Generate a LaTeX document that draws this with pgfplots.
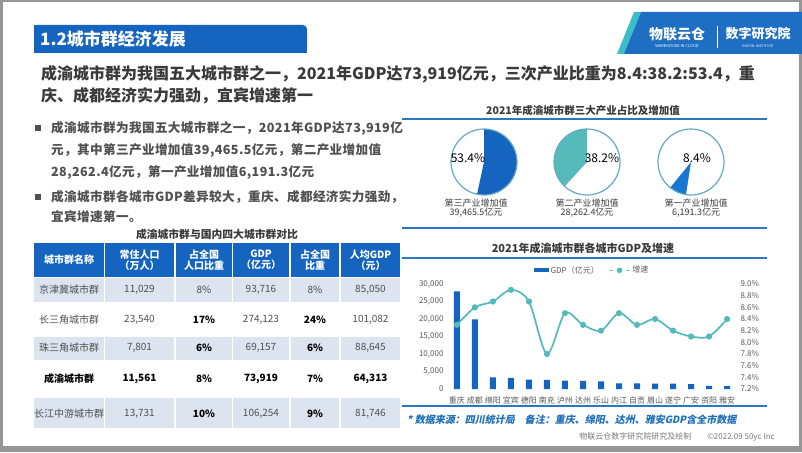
\documentclass[border=0pt]{standalone}
\usepackage{fontspec}
\setmainfont{Noto Sans CJK SC}
\newfontfamily\notefont{Noto Sans CJK SC}[FakeSlant=0.2]
\newfontfamily\bulfont{Noto Sans CJK SC}[LetterSpace=3]
\usepackage{pgfplots}
\pgfplotsset{compat=1.18}
\definecolor{mainblue}{RGB}{21,101,192}
\definecolor{lineblue}{RGB}{40,120,195}
\definecolor{lightrow}{RGB}{220,228,240}
\definecolor{tealc}{RGB}{86,186,186}
\definecolor{pieblue}{RGB}{25,118,210}
\definecolor{pieline}{RGB}{100,170,195}
\definecolor{headgray}{RGB}{58,58,58}
\definecolor{bulgray}{RGB}{80,80,80}
\definecolor{cellgray}{RGB}{80,80,80}
\definecolor{tickgray}{RGB}{89,89,89}
\definecolor{noteblue}{RGB}{30,111,184}
\definecolor{framegray}{RGB}{150,150,150}
\definecolor{logoteal}{RGB}{60,190,200}
\definecolor{logoblue}{RGB}{30,110,195}
\newcommand\fs[1]{\fontsize{#1pt}{#1pt}\selectfont}
\newcommand\trow[7]{%
  \node at (69,#1) {#2};
  \node at (139.5,#1) {#3};
  \node at (204,#1) {#4};
  \node at (261,#1) {#5};
  \node at (315,#1) {#6};
  \node at (370.5,#1) {#7};}
\begin{document}
\begin{tikzpicture}
\useasboundingbox (0,0) rectangle (802pt,-452pt);
\begin{scope}[x=1pt,y=-1pt]
  % frame
  \fill[framegray] (0,0) rectangle (802,452);
  \fill[white] (3,2) rectangle (799,446);
  % title bar
  \fill[mainblue, rounded corners=4pt] (34,25) rectangle (307,53);
  \fill[mainblue] (34,25) rectangle (300,53);
  \fill[mainblue] (34,32) rectangle (307,53);
  \node[anchor=west, inner sep=0, font=\fs{17}\bfseries, text=white] at (40,39) {1.2城市群经济发展};
  % logo
  \fill[logoteal] (634,12) -- (641,12) -- (624,54) -- (617,54) -- cycle;
  \fill[logoblue] (641,12) -- (802,12) -- (802,54) -- (624,54) -- cycle;
  \node[inner sep=0, font=\fs{14}\bfseries, text=white] at (677,34) {物联云仓};
  \node[inner sep=0, font=\fs{4}, text=white] at (677,46) {WAREHOUSE IN CLOUD};
  \draw[white, line width=0.6pt] (717,26) -- (717,48);
  \node[inner sep=0, font=\fs{13}\bfseries, text=white] at (758,34) {数字研究院};
  \node[inner sep=0, font=\fs{3.5}, text=white] at (758,46) {DIGITAL INSTITUTE};
  % headline
  \node[anchor=west, inner sep=0, font=\fs{16}\bfseries, text=headgray] at (41,74) {成渝城市群为我国五大城市群之一，2021年GDP达73,919亿元，三次产业比重为8.4:38.2:53.4，重};
  \node[anchor=west, inner sep=0, font=\fs{16}\bfseries, text=headgray] at (41,96) {庆、成都经济实力强劲，宜宾增速第一};
  % bullets
  \fill[bulgray] (35,125) rectangle (41,131);
  \fill[bulgray] (35,194) rectangle (41,200);
  \begin{scope}[every node/.style={anchor=west, inner sep=0, font=\bulfont\fs{12.6}\bfseries, text=bulgray}]
    \node at (51,128) {成渝城市群为我国五大城市群之一，2021年GDP达73,919亿};
    \node at (51,150) {元，其中第三产业增加值39,465.5亿元，第二产业增加值};
    \node at (51,172) {28,262.4亿元，第一产业增加值6,191.3亿元};
    \node at (51,197) {成渝城市群各城市GDP差异较大，重庆、成都经济实力强劲，};
    \node at (51,217) {宜宾增速第一。};
  \end{scope}
  % table
  \node[inner sep=0, font=\fs{10.8}\bfseries, text=headgray] at (217,234) {成渝城市群与国内四大城市群对比};
  \foreach \a/\b in {34/104,105/174,176/232,233/289,291/339,341/400} {
    \fill[mainblue] (\a,243) rectangle (\b,277);
    \fill[lightrow] (\a,278) rectangle (\b,302);
    \fill[lightrow] (\a,337) rectangle (\b,360);
    \fill[lightrow] (\a,398) rectangle (\b,428);
  }
  \begin{scope}[every node/.style={inner sep=0, font=\fs{10}\bfseries, text=white, align=center}]
    \node at (69,260) {城市群名称};
    \node at (139.5,260) {常住人口\\[1pt]（万人）};
    \node at (204,260) {占全国\\[1pt]人口比重};
    \node at (261,260) {GDP\\[1pt]（亿元）};
    \node at (315,260) {占全国\\[1pt]比重};
    \node at (370.5,260) {人均GDP\\[1pt]（元）};
  \end{scope}
  \begin{scope}[every node/.style={inner sep=0, font=\fs{10}, text=cellgray}]
    \trow{290}{京津冀城市群}{11,029}{8\%}{93,716}{8\%}{85,050}
    \trow{320}{长三角城市群}{23,540}{\textbf{\color{black}17\%}}{274,123}{\textbf{\color{black}24\%}}{101,082}
    \trow{348}{珠三角城市群}{7,801}{\textbf{\color{black}6\%}}{69,157}{\textbf{\color{black}6\%}}{88,645}
    \trow{414}{长江中游城市群}{13,731}{\textbf{\color{black}10\%}}{106,254}{\textbf{\color{black}9\%}}{81,746}
  \end{scope}
  \begin{scope}[every node/.style={inner sep=0, font=\fs{10}\bfseries, text=black}]
    \trow{379}{成渝城市群}{11,561}{8\%}{73,919}{7\%}{64,313}
  \end{scope}
  % section lines
  \foreach \yy in {119,228,258,406} {\draw[lineblue, line width=1.3pt] (402,\yy) -- (767,\yy);}
  % pie section
  \node[inner sep=0, font=\fs{10.5}\bfseries, text=headgray] at (583,110) {2021年成渝城市群三大产业占比及增加值};
  \begin{scope}[every node/.style={inner sep=0, font=\fs{9}, text=headgray, align=center}]
    \node at (476,208.5) {第三产业增加值\\39,465.5亿元};
    \node at (587,208.5) {第二产业增加值\\28,262.4亿元};
    \node at (696,208.5) {第一产业增加值\\6,191.3亿元};
  \end{scope}
  % chart title
  \node[inner sep=0, font=\fs{11}\bfseries, text=headgray] at (583,248) {2021年成渝城市群各城市GDP及增速};
  % footnotes
  \node[anchor=west, inner sep=0, font=\notefont\fs{10}\bfseries, text=noteblue] at (407,420) {*\ 数据来源：四川统计局\quad 备注：重庆、绵阳、达州、雅安GDP含全市数据};
  \node[anchor=east, inner sep=0, font=\fs{8}, text=tickgray!80] at (775,437) {物联云仓数字研究院研究及绘制\qquad ©2022.09 50yc Inc};
\end{scope}
% pies
\begin{scope}[x=1pt,y=1pt,shift={(484pt,-162pt)}]
  \fill[mainblue] (0,0) -- (90:33) arc[start angle=90, end angle={90-53.4*3.6}, radius=33] -- cycle;
  \draw[pieline, line width=1.2pt] (0,0) circle (33);
  \node[inner sep=0, font=\fs{12}, text=black] at (-16,4) {53.4\%};
\end{scope}
\begin{scope}[x=1pt,y=1pt,shift={(587pt,-162pt)}]
  \fill[tealc] (0,0) -- (90:33) arc[start angle=90, end angle={90+38.2*3.6}, radius=33] -- cycle;
  \draw[pieline, line width=1.2pt] (0,0) circle (33);
  \node[inner sep=0, font=\fs{12}, text=black] at (15,4) {38.2\%};
\end{scope}
\begin{scope}[x=1pt,y=1pt,shift={(691pt,-162pt)}]
  \fill[pieblue] (0,0) -- (231:33) arc[start angle=231, end angle={231+8.4*3.6}, radius=33] -- cycle;
  \draw[pieline, line width=1.2pt] (0,0) circle (33);
  \node[inner sep=0, font=\fs{12}, text=black] at (6,4) {8.4\%};
\end{scope}
% main chart: bars
\begin{axis}[
  at={(447pt,-389pt)}, anchor=south west,
  width=290pt, height=105pt, scale only axis,
  xmin=-0.55, xmax=15.55, ymin=0, ymax=30000,
  axis line style={draw=none}, tick style={draw=none},
  ytick={0,5000,10000,15000,20000,25000,30000},
  scaled y ticks=false,
  /pgf/number format/assume math mode=true,
  /pgf/number format/1000 sep={,},
  yticklabel style={font=\fs{8}, color=tickgray},
  xtick={0,...,15},
  xticklabels={重庆,成都,绵阳,宜宾,德阳,南充,泸州,达州,乐山,内江,自贡,眉山,遂宁,广安,资阳,雅安},
  xticklabel style={font=\fs{8}, color=tickgray},
  ybar, bar width=6pt,
  legend style={at={(0.5,1.13)}, anchor=center, draw=none, fill=none, font=\fs{8}, text=tickgray,
    /tikz/every even column/.append style={column sep=8pt}},
  legend columns=2,
  clip=false
]
\addplot[fill=mainblue, draw=none, legend image code/.code={\fill[mainblue] (0pt,-2pt) rectangle (15pt,2.5pt);}]
  coordinates {(0,27894) (1,19917) (2,3350) (3,3148) (4,2656) (5,2601) (6,2406) (7,2351)
               (8,2206) (9,1606) (10,1601) (11,1547) (12,1519) (13,1417) (14,890) (15,840)};
\addlegendentry{GDP（亿元）}
\addlegendimage{line legend, color=tealc, line width=1.5pt, mark=*, mark size=2pt}
\addlegendentry{增速}
\end{axis}
% main chart: growth line
\begin{axis}[
  at={(447pt,-389pt)}, anchor=south west,
  width=290pt, height=105pt, scale only axis,
  xmin=-0.55, xmax=15.55, ymin=7.2, ymax=9.0,
  axis line style={draw=none}, tick style={draw=none},
  xtick=\empty,
  ytick={7.2,7.4,7.6,7.8,8.0,8.2,8.4,8.6,8.8,9.0},
  yticklabel pos=right,
  /pgf/number format/assume math mode=true,
  yticklabel={\pgfmathprintnumber[fixed,fixed zerofill,precision=1]{\tick}\%},
  yticklabel style={font=\fs{8}, color=tickgray},
  clip=false
]
\addplot[tealc, line width=1.7pt, smooth, mark=*, mark size=2.2pt, mark options={fill=tealc, draw=tealc}]
  coordinates {(0,8.3) (1,8.6) (2,8.7) (3,8.9) (4,8.7) (5,7.8) (6,8.5) (7,8.3)
               (8,8.2) (9,8.5) (10,8.3) (11,8.4) (12,8.2) (13,8.1) (14,8.1) (15,8.4)};
\end{axis}
\end{tikzpicture}
\end{document}
